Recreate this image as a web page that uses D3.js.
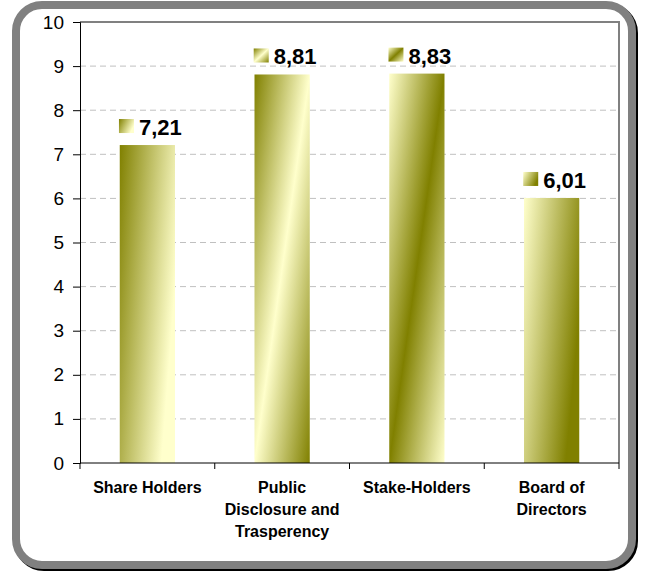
<!DOCTYPE html>
<html>
<head>
    <meta charset="utf-8">
    <title>governance-scores</title>
    <style>
body { margin: 0; background: #ffffff; }
text { font-family: "Liberation Sans", Arial, sans-serif; }
.grid line { stroke: #c0c0c0; stroke-dasharray: 6,4; }
.catLabel { font-weight: bold; font-size: 16px; fill: #000; }
.valLabel { font-weight: bold; font-size: 22px; fill: #000; }
</style>
</head>
<body>
    <script src="https://d3js.org/d3.v7.min.js"></script>
    <script>
        /* the data */
        var categories = ["Share Holders", "Public Disclosure and Trasperency", "Stake-Holders", "Board of Directors"];
        var categoryLines = [["Share Holders"], ["Public", "Disclosure and", "Trasperency"], ["Stake-Holders"], ["Board of", "Directors"]];
        var values = [7.21, 8.81, 8.83, 6.01];
        var valueLabels = ["7,21", "8,81", "8,83", "6,01"];
        var yTicks = [0, 1, 2, 3, 4, 5, 6, 7, 8, 9, 10];

        /* each bar has its own two-colour gradient (Excel style): colours + direction */
        var olive = "#808000", cream = "#ffffcc";
        var barGradients = [
            { stops: [olive, cream], dir: [1, 0.45] },
            { stops: [olive, cream, olive], dir: [1, 1] },
            { stops: [cream, olive, cream], dir: [1, 1] },
            { stops: [cream, olive], dir: [1, 0.45] }
        ];

        var totalWidth = 645, totalHeight = 572;
        var margin = { top: 22, right: 26, bottom: 109, left: 80 };
        var width = totalWidth - margin.left - margin.right,
            height = totalHeight - margin.top - margin.bottom;

        var root = d3.select("body").append("svg")
            .attr("width", totalWidth)
            .attr("height", totalHeight);

        /* gradients */
        var defs = root.append("defs");
        barGradients.forEach(function (gd, i) {
            var g = defs.append("linearGradient")
                .attr("id", "grad" + i)
                .attr("x1", 0).attr("y1", 0)
                .attr("x2", gd.dir[0]).attr("y2", gd.dir[1]);
            gd.stops.forEach(function (c, j) {
                g.append("stop")
                    .attr("offset", j / (gd.stops.length - 1))
                    .attr("stop-color", c);
            });
        });

        /* the rounded frame with a thin black shadow */
        root.append("rect")
            .attr("x", 18).attr("y", 7)
            .attr("width", 616).attr("height", 560)
            .attr("rx", 26)
            .attr("fill", "none").attr("stroke", "#000").attr("stroke-width", 8);
        root.append("rect")
            .attr("x", 16).attr("y", 5)
            .attr("width", 616).attr("height", 560)
            .attr("rx", 26)
            .attr("fill", "#fff").attr("stroke", "#808080").attr("stroke-width", 8);

        var svg = root.append("g")
            .attr("transform", "translate(" + margin.left + "," + margin.top + ")");

        var x = d3.scaleBand()
            .range([0, width])
            .domain(categories);

        var y = d3.scaleLinear()
            .range([height, 0])
            .domain([0, 10]);

        /* dashed gridlines */
        svg.append("g").attr("class", "grid")
            .selectAll("line")
            .data(yTicks.filter(function (d) { return d > 0 && d < 10; }))
            .enter().append("line")
            .attr("x1", 0).attr("x2", width)
            .attr("y1", function (d) { return y(d); })
            .attr("y2", function (d) { return y(d); });

        /* grey plot border top and right */
        svg.append("path")
            .attr("d", "M0," + y(10) + "H" + width + "V" + height)
            .attr("fill", "none")
            .attr("stroke", "#808080")
            .attr("stroke-width", 2);

        /* bars */
        var barFrac = 0.41;
        svg.selectAll(".bar")
            .data(values)
            .enter().append("rect")
            .attr("class", "bar")
            .attr("x", function (d, i) { return x(categories[i]) + x.bandwidth() * (1 - barFrac) / 2; })
            .attr("width", x.bandwidth() * barFrac)
            .attr("y", function (d) { return y(d); })
            .attr("height", function (d) { return height - y(d); })
            .attr("fill", function (d, i) { return "url(#grad" + i + ")"; });

        /* value labels: little legend square + number */
        var labels = svg.selectAll(".val")
            .data(values)
            .enter().append("g")
            .attr("class", "val");
        labels.each(function (d, i) {
            var g = d3.select(this);
            var t = g.append("text")
                .attr("class", "valLabel")
                .text(valueLabels[i]);
            var tw = t.node().getComputedTextLength();
            var sq = 15, gap = 5;
            var total = sq + gap + tw;
            var cx = x(categories[i]) + x.bandwidth() / 2 + 3;
            var base = y(d) - 10;
            var left = cx - total / 2;
            g.insert("rect", "text")
                .attr("x", left).attr("y", base - 16)
                .attr("width", sq).attr("height", 14)
                .attr("fill", "url(#grad" + i + ")");
            t.attr("x", left + sq + gap).attr("y", base);
        });

        /* y axis */
        var yAxis = svg.append("g")
            .call(d3.axisLeft(y).tickValues(yTicks).tickSize(7).tickPadding(9));
        yAxis.select(".domain").attr("stroke", "#000");
        yAxis.selectAll("text")
            .attr("font-family", "Liberation Sans, Arial, sans-serif")
            .attr("font-size", 19)
            .attr("fill", "#000");

        /* x axis line with ticks on the category boundaries */
        var xAx = svg.append("g").attr("transform", "translate(0," + height + ")");
        xAx.append("line").attr("x1", 0).attr("x2", width).attr("stroke", "#000");
        var bounds = categories.map(function (c) { return x(c); }).concat([x.range()[1]]);
        xAx.selectAll(".tk")
            .data(bounds)
            .enter().append("line")
            .attr("class", "tk")
            .attr("x1", function (d) { return d; }).attr("x2", function (d) { return d; })
            .attr("y1", 0).attr("y2", 6)
            .attr("stroke", "#000");

        /* category labels, wrapped as in the original */
        xAx.selectAll(".catLabel")
            .data(categoryLines)
            .enter().append("text")
            .attr("class", "catLabel")
            .attr("text-anchor", "middle")
            .attr("x", function (d, i) { return x(categories[i]) + x.bandwidth() / 2; })
            .each(function (lines) {
                var t = d3.select(this);
                lines.forEach(function (l, k) {
                    t.append("tspan")
                        .attr("x", t.attr("x"))
                        .attr("y", 30 + k * 22)
                        .text(l);
                });
            });
    </script>
</body>
</html>
